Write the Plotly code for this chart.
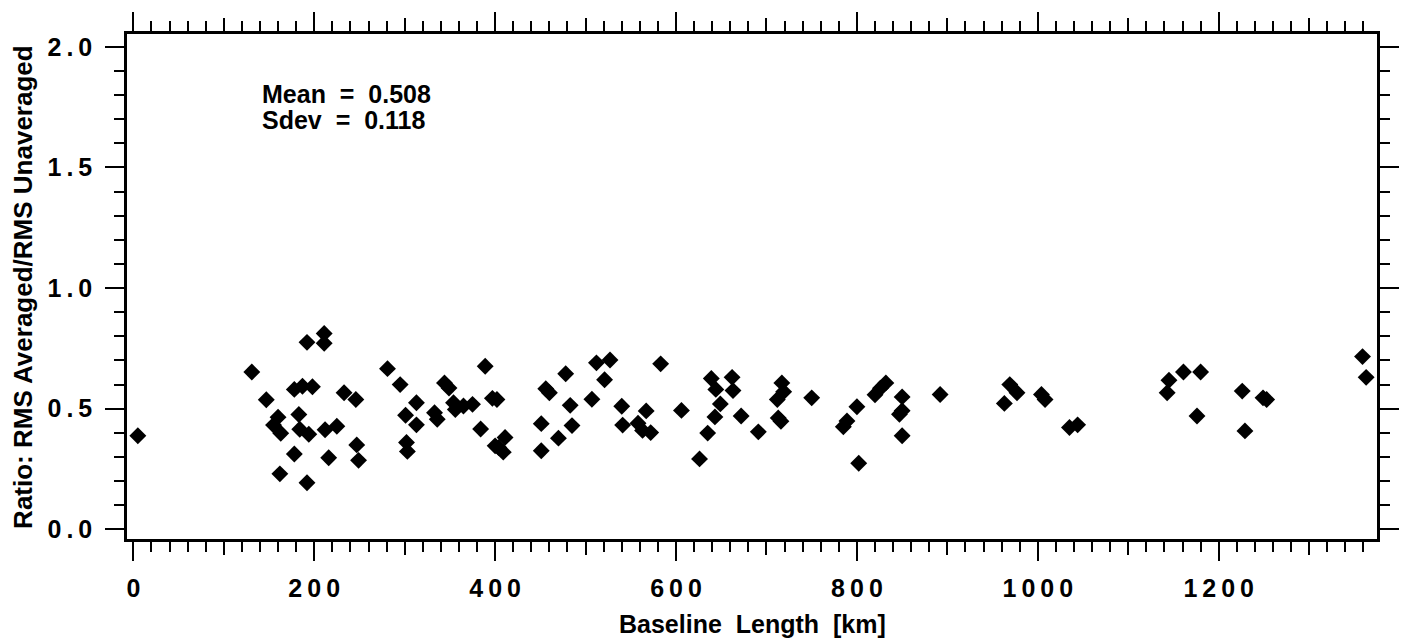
import plotly.graph_objects as go

# Baseline length [km] and ratio (RMS averaged / RMS unaveraged)
baseline_km = [
    5, 131, 147, 160, 155, 163, 162, 178, 178, 187, 198, 183, 184, 194, 192, 192,
    211, 211, 212, 225, 216, 233, 246, 247, 249, 281,
    295, 301, 313, 313, 302, 303, 333, 336, 344, 349, 354, 356, 365, 375, 389, 384,
    397, 402, 400, 411, 409, 404, 451, 451, 456, 460, 478, 483, 470, 485, 507, 512,
    527, 521, 540, 541, 558, 563, 572, 567, 583,
    606, 626, 635, 639, 644, 649, 643, 662, 663, 672, 691, 717, 719, 712, 713, 716,
    750, 785, 789, 800, 802, 820, 826, 832, 850, 847, 850, 850, 892,
    969, 977, 963, 1004, 1008, 1035, 1044, 1145, 1143, 1161, 1180, 1176,
    1226, 1229, 1249, 1253, 1359, 1363,
]
ratio = [
    0.388, 0.652, 0.537, 0.465, 0.432, 0.398, 0.230, 0.312, 0.580, 0.593, 0.591, 0.476,
    0.415, 0.394, 0.775, 0.193, 0.812, 0.771, 0.413, 0.427, 0.297, 0.566, 0.538, 0.350,
    0.286, 0.666,
    0.600, 0.473, 0.525, 0.433, 0.360, 0.323, 0.483, 0.456, 0.607, 0.586, 0.525, 0.497,
    0.511, 0.518, 0.676, 0.416, 0.543, 0.538, 0.346, 0.381, 0.320, 0.339, 0.438, 0.326,
    0.583, 0.566, 0.645, 0.514, 0.378, 0.430, 0.539, 0.690, 0.702, 0.620, 0.510, 0.432,
    0.440, 0.410, 0.401, 0.491, 0.686,
    0.493, 0.292, 0.399, 0.625, 0.580, 0.520, 0.466, 0.630, 0.575, 0.470, 0.404, 0.607,
    0.570, 0.538, 0.462, 0.448, 0.545, 0.425, 0.449, 0.508, 0.274, 0.558, 0.585, 0.607,
    0.549, 0.477, 0.492, 0.388, 0.559,
    0.600, 0.566, 0.522, 0.559, 0.538, 0.422, 0.433, 0.618, 0.566, 0.652, 0.652, 0.470,
    0.573, 0.408, 0.545, 0.538, 0.716, 0.630,
]

x_major = [0, 200, 400, 600, 800, 1000, 1200]
x_mid = [100, 300, 500, 700, 900, 1100, 1300]
y_major = [0.0, 0.5, 1.0, 1.5, 2.0]
TS = "\u2009"
NB = "\u00a0"
x_labels = [TS.join(str(v)) for v in x_major]
y_labels = [TS.join(f"{v:.1f}") for v in y_major]

x_range = [-7, 1375]
y_range = [-0.04, 2.053]

FONT = "Liberation Sans"
TXT = dict(family=FONT, color="black", weight="bold")

fig = go.Figure()
fig.add_trace(go.Scatter(
    x=baseline_km, y=ratio, mode="markers",
    marker=dict(symbol="diamond", size=13, color="black", line=dict(width=0)),
    showlegend=False, hoverinfo="skip",
))
# helper trace so the medium-tick axis is drawn
fig.add_trace(go.Scatter(x=[None], y=[None], xaxis="x2", yaxis="y",
                         showlegend=False, hoverinfo="skip"))

axis_common = dict(
    showgrid=False, zeroline=False, showline=True, linecolor="black", linewidth=2.5,
    mirror="ticks", ticks="outside", tickcolor="black", tickwidth=2,
)

fig.update_layout(
    width=1411, height=643,
    margin=dict(l=127, r=18, t=30, b=104),
    paper_bgcolor="white", plot_bgcolor="white",
    font=dict(**TXT, size=25),
    xaxis=dict(
        **axis_common, range=x_range, tickmode="array", tickvals=x_major,
        ticktext=x_labels, ticklen=19, ticklabelstandoff=6,
        tickfont=dict(**TXT, size=25),
        minor=dict(tick0=0, dtick=20, ticks="outside", ticklen=10, tickwidth=2,
                   tickcolor="black", showgrid=False),
    ),
    xaxis2=dict(
        overlaying="x", anchor="y", side="bottom", range=x_range,
        showgrid=False, zeroline=False, showline=False, mirror="ticks",
        ticks="outside", tickmode="array", tickvals=x_mid, ticklen=15,
        tickwidth=2, tickcolor="black", showticklabels=False,
    ),
    yaxis=dict(
        **axis_common, range=y_range, tickmode="array", tickvals=y_major,
        ticktext=y_labels, ticklen=19, ticklabelstandoff=8,
        tickfont=dict(**TXT, size=25),
        minor=dict(tick0=0, dtick=0.1, ticks="outside", ticklen=10, tickwidth=2,
                   tickcolor="black", showgrid=False),
    ),
    annotations=[
        dict(text=f"Baseline{NB} Length{NB} [km]", xref="paper", yref="paper",
             x=0.5, y=-0.169, xanchor="center", yanchor="middle",
             showarrow=False, font=dict(**TXT, size=25)),
        dict(text="Ratio: RMS Averaged/RMS Unaveraged", xref="paper", yref="paper",
             x=-0.0837, y=0.5, xanchor="center", yanchor="middle", textangle=-90,
             showarrow=False, font=dict(**TXT, size=26)),
        dict(text=f"Mean{NB} ={NB} 0.508", xref="paper", yref="paper",
             x=0.1064, y=0.882, xanchor="left", yanchor="middle",
             showarrow=False, font=dict(**TXT, size=25)),
        dict(text=f"Sdev{NB} ={NB} 0.118", xref="paper", yref="paper",
             x=0.1064, y=0.829, xanchor="left", yanchor="middle",
             showarrow=False, font=dict(**TXT, size=25)),
    ],
)

fig.write_html("out.html")
